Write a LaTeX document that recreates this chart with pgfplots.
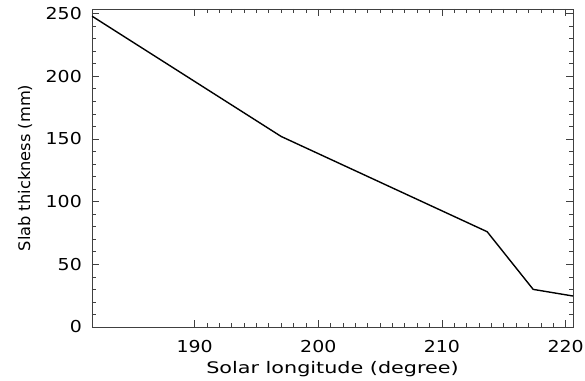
\documentclass[border=0pt]{standalone}
\usepackage{fontspec}
\setmainfont{DejaVu Sans}
\newfontfamily\tickfont[FakeStretch=1.15]{DejaVu Sans}
\newfontfamily\xlabfont[FakeStretch=1.3]{DejaVu Sans}
\newfontfamily\ylabfont[FakeStretch=1.02]{DejaVu Sans}
\usepackage{pgfplots}
\pgfplotsset{compat=1.18}
\begin{document}
\begin{tikzpicture}[x=1bp,y=1bp]
\begin{axis}[
  at={(0,0)}, anchor=south west,
  scale only axis, width=481bp, height=318bp,
  xmin=181.7, xmax=220.6, ymin=0, ymax=253.7,
  xtick={190,200,210,220}, ytick={0,50,100,150,200,250},
  minor x tick num=9, minor y tick num=4,
  tick align=inside, major tick length=7bp, minor tick length=4bp,
  xtick pos=both, ytick pos=both,
  axis line style={line width=0.9pt, black!75},
  every tick/.style={black!75, line width=0.7pt},
  /pgf/number format/assume math mode=true,
  /pgf/number format/1000 sep={},
  xticklabel style={font=\tickfont\fontsize{16.5}{16.5}\selectfont, anchor=center, inner sep=0pt, yshift=-20bp},
  yticklabel style={font=\tickfont\fontsize{16.5}{16.5}\selectfont, anchor=east, inner sep=0pt, xshift=-10bp},
  xlabel={Solar longitude (degree)},
  ylabel={Slab thickness (mm)},
  xlabel style={font=\xlabfont\fontsize{16}{16}\selectfont, at={(axis description cs:0.5,-0.132)}, anchor=center, inner sep=0pt},
  ylabel style={font=\ylabfont\fontsize{16}{16}\selectfont, at={(axis description cs:-0.1393,0.5)}, anchor=center, inner sep=0pt},
]
\addplot[black, line width=1.4pt] coordinates {
(181.7,248) (197.0,152) (213.66,76) (217.38,30) (220.6,24.7)
};
\end{axis}
\path (-92bp,-54bp) rectangle (493bp,327bp);
\end{tikzpicture}
\end{document}
